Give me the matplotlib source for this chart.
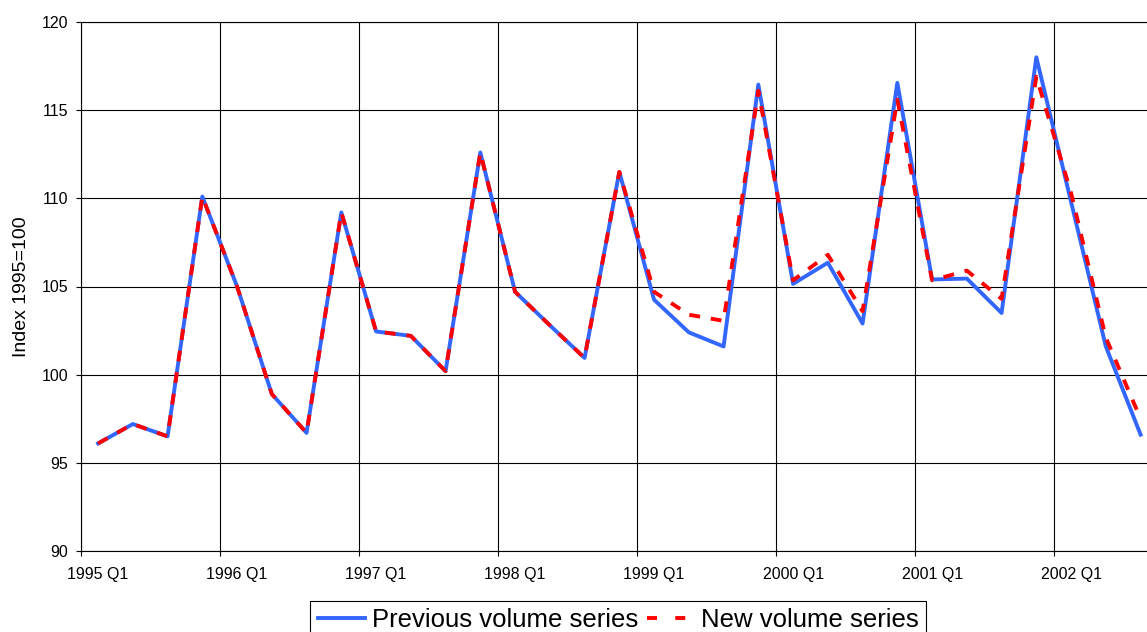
import matplotlib
matplotlib.use("Agg")
import matplotlib.pyplot as plt
from matplotlib.lines import Line2D
import numpy as np

plt.rcParams['font.family'] = ['Liberation Sans', 'DejaVu Sans']

# Data: quarterly volume index, 1995 Q1 - 2002 Q3
years = [1995, 1996, 1997, 1998, 1999, 2000, 2001, 2002]
quarters = [f'{y} Q{q}' for y in years for q in range(1, 5)][:31]
tick_labels = [f'{y} Q1' for y in years]

previous = [96.1, 97.2, 96.5, 110.1, 105.0, 98.9, 96.7, 109.2,
            102.45, 102.2, 100.2, 112.6, 104.7, 102.8, 100.95, 111.5,
            104.25, 102.4, 101.6, 116.45, 105.15, 106.35, 102.9, 116.55,
            105.4, 105.45, 103.5, 118.0, 109.8, 101.6, 96.6]
new = [96.1, 97.2, 96.5, 110.1, 105.0, 98.9, 96.7, 109.2,
       102.45, 102.2, 100.2, 112.6, 104.7, 102.8, 100.95, 111.5,
       104.7, 103.4, 103.05, 116.1, 105.35, 106.8, 103.6, 115.6,
       105.35, 105.9, 104.3, 116.9, 110.3, 102.1, 97.5]

W, H = 1147, 632
fig = plt.figure(figsize=(W / 100, H / 100), dpi=100)
# plot area runs past the right edge, as in the cropped original
ax = fig.add_axes([80.7 / W, 81 / H, 1077.25 / W, 529 / H])

x = np.arange(len(quarters))
l1, = ax.plot(x, previous, color='#3366ff', lw=2.8, zorder=3,
              label='Previous volume series')
ax.plot(x, new, color='#ff0000', lw=2.8, ls=(0, (2.8, 2.8)),
        dash_capstyle='butt', zorder=4)

ax.set_xlim(-0.5, len(quarters) - 0.5)
ax.set_ylim(90, 120)
ax.set_yticks(range(90, 121, 5))

# gridlines / ticks on category boundaries, labels on category centres
ax.set_xticks(np.arange(-0.5, len(quarters), 4))
ax.set_xticklabels([])
ax.set_xticks(np.arange(0, len(quarters), 4), labels=tick_labels, minor=True)
ax.tick_params(axis='x', which='minor', length=0, pad=11.5, labelsize=11.5)
ax.tick_params(axis='x', which='major', length=3.6, width=0.8, color='black')
ax.tick_params(axis='y', length=3.6, width=0.8, pad=5.5, labelsize=11.5)

ax.grid(True, which='major', color='black', lw=0.8)
ax.set_axisbelow(True)
for s in ax.spines.values():
    s.set_color('black')
    s.set_linewidth(0.8)

ax.set_ylabel('Index 1995=100', fontsize=14)
ax.yaxis.set_label_coords(-0.0548, 0.5)
ax.yaxis.label.set_va('center')

# legend key for the dashed series shows two dashes, like the original
new_key = Line2D([], [], color='#ff0000', lw=2.8, ls=(0, (2.57, 4.7)),
                 dash_capstyle='butt', label='New volume series')
leg = fig.legend(handles=[l1, new_key], loc='upper left',
                 bbox_to_anchor=(310 / W, 1 - 600.7 / H), ncol=2,
                 fontsize=18.5, frameon=True, fancybox=False,
                 edgecolor='black', framealpha=1, borderpad=0.3,
                 handlelength=1.85, handletextpad=0.25, columnspacing=0.35,
                 borderaxespad=0)
leg.get_frame().set_linewidth(0.8)

fig.savefig('out.png', dpi=100)
